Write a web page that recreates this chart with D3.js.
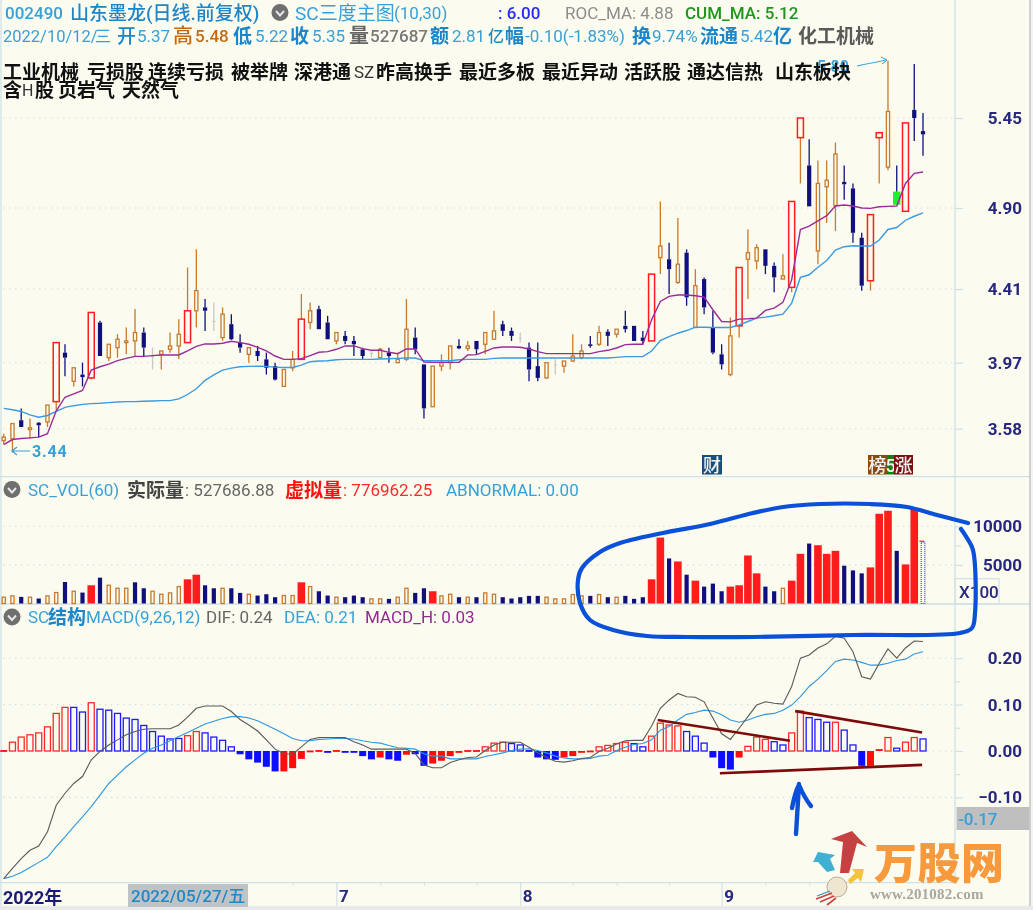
<!DOCTYPE html>
<html><head><meta charset="utf-8">
<style>
html,body{margin:0;padding:0;background:#fbfbef;}
svg{display:block;filter:blur(0.4px);}
text{font-family:Roboto,"Noto Sans CJK SC",sans-serif;}
</style>
<script src="https://cdn.jsdelivr.net/npm/d3@7/dist/d3.min.js"></script>
</head><body>
<script>
// ---- price pane data ----
const open=[3.51,3.52,3.63,3.575,3.615,3.62,3.74,4.03,3.86,3.90,
3.88,4.21,4.00,4.06,4.09,4.10,4.15,4.01,4.02,4.05,
4.07,4.09,4.28,4.30,4.22,4.12,4.20,4.09,4.02,4.04,
3.99,3.95,3.83,3.94,3.99,4.21,4.29,4.21,4.10,4.13,
4.10,4.05,4.03,4.00,4.03,3.97,3.99,4.12,3.96,3.71,
3.95,3.97,4.07,4.055,4.10,4.08,4.11,4.20,4.16,4.12,
4.06,3.95,3.88,3.96,3.95,3.98,4.00,4.08,4.08,4.155,
4.14,4.19,4.19,4.12,4.10,4.60,4.59,4.45,4.63,4.18,
4.47,4.18,4.02,3.90,4.19,4.59,4.58,4.65,4.55,4.47,
4.42,5.33,5.16,4.64,5.03,4.915,5.06,5.02,4.72,4.46,
5.33,5.15,5.00,4.88,5.50,5.37];
const high=[3.55,3.61,3.70,3.64,3.62,3.72,4.09,4.08,3.94,3.97,
4.27,4.22,4.08,4.14,4.18,4.29,4.18,4.06,4.04,4.15,
4.23,4.54,4.65,4.35,4.33,4.30,4.26,4.14,4.06,4.07,
4.03,3.97,3.93,4.04,4.38,4.33,4.31,4.25,4.15,4.16,
4.13,4.06,4.04,4.06,4.06,4.03,4.35,4.18,3.96,3.95,
4.02,4.07,4.11,4.10,4.10,4.15,4.28,4.22,4.18,4.15,
4.09,4.09,3.97,3.99,3.98,4.14,4.08,4.13,4.19,4.17,
4.17,4.28,4.19,4.16,4.50,4.94,4.69,4.84,4.65,4.53,
4.48,4.28,4.08,4.24,4.54,4.77,4.68,4.65,4.57,4.62,
4.94,5.45,5.32,5.19,5.19,5.30,5.16,5.05,4.75,4.86,
5.36,5.80,5.16,5.42,5.78,5.48];
const low=[3.49,3.44,3.59,3.52,3.53,3.59,3.69,3.89,3.83,3.83,
3.87,4.01,3.98,4.00,4.02,4.01,4.01,3.93,3.93,4.03,
3.99,4.09,4.18,4.16,4.16,4.10,4.105,4.03,3.97,3.98,
3.90,3.865,3.83,3.92,3.99,4.17,4.17,4.11,4.08,4.08,
4.01,3.99,4.00,4.00,3.97,3.97,3.98,4.02,3.64,3.71,
3.92,3.93,4.05,4.04,4.02,4.02,4.11,4.13,4.10,4.09,
3.86,3.86,3.875,3.90,3.91,3.975,3.99,4.06,4.07,4.07,
4.12,4.15,4.10,4.08,4.10,4.50,4.38,4.44,4.31,4.18,
4.26,4.02,3.93,3.89,4.12,4.35,4.53,4.50,4.39,4.47,
4.39,5.05,4.91,4.56,4.81,4.76,4.95,4.69,4.40,4.40,
5.05,5.13,4.92,4.88,5.31,5.22];
const close=[3.53,3.61,3.59,3.585,3.60,3.72,4.09,4.00,3.94,3.885,
4.27,4.01,4.08,4.11,4.10,4.15,4.06,4.01,4.04,4.07,
4.14,4.28,4.40,4.28,4.22,4.26,4.11,4.06,4.06,4.01,
3.94,3.87,3.93,3.99,4.23,4.28,4.17,4.11,4.15,4.10,
4.08,4.01,4.03,4.05,4.01,3.99,4.17,4.05,3.70,3.95,
3.97,4.07,4.055,4.07,4.05,4.15,4.16,4.16,4.13,4.12,
3.93,3.88,3.97,3.96,3.98,4.01,4.04,4.07,4.15,4.13,
4.17,4.17,4.10,4.10,4.50,4.67,4.53,4.56,4.36,4.43,
4.30,4.03,3.96,4.13,4.54,4.63,4.66,4.55,4.48,4.49,
4.94,5.45,4.91,5.05,5.07,5.23,5.045,4.75,4.43,4.86,
5.36,5.49,4.92,5.42,5.45,5.35];
const candleKind=["oononornon","rnoooongoo","orongonnon","nnooronnon","nngonoonno",
"oononoonng","nnogooonon","onnnronono","nnnoroonno","rrnooonnnr","rocrnn"].join("");
const maSlow=[3.70,3.692,3.682,3.662,3.648,3.658,3.682,3.706,3.716,3.724,
3.728,3.73,3.734,3.738,3.74,3.74,3.742,3.744,3.746,3.746,
3.756,3.782,3.816,3.866,3.898,3.926,3.938,3.946,3.948,3.95,
3.948,3.944,3.942,3.942,3.956,3.976,3.98,3.982,3.988,3.99,
3.99,3.99,3.99,3.992,3.994,3.996,3.998,3.998,3.982,3.982,
3.982,3.982,3.988,3.99,3.99,3.99,3.996,3.998,3.998,3.998,
3.998,3.998,3.998,3.998,3.998,3.998,3.998,3.998,3.998,3.998,
4.002,4.006,4.006,4.006,4.04,4.102,4.126,4.146,4.162,4.182,
4.182,4.18,4.18,4.18,4.196,4.216,4.236,4.242,4.25,4.26,
4.326,4.48,4.496,4.542,4.582,4.646,4.666,4.672,4.67,4.67,
4.706,4.77,4.782,4.826,4.85,4.87];
const maFast=[3.486,3.516,3.522,3.526,3.53,3.55,3.686,3.766,3.786,3.806,
3.926,3.946,3.962,3.982,3.996,4.008,4.008,4.012,4.016,4.016,
4.016,4.04,4.068,4.082,4.082,4.086,4.098,4.09,4.08,4.062,
4.04,4.01,3.99,3.99,3.994,4.012,4.032,4.036,4.05,4.07,
4.07,4.054,4.044,4.044,4.032,4.024,4.052,4.052,3.974,3.972,
3.972,3.972,3.972,4.016,4.018,4.038,4.058,4.064,4.064,4.062,
4.052,4.036,4.024,4.024,4.024,4.024,4.024,4.024,4.036,4.044,
4.058,4.078,4.08,4.08,4.226,4.336,4.366,4.374,4.374,4.37,
4.362,4.286,4.216,4.214,4.23,4.232,4.236,4.282,4.296,4.33,
4.466,4.77,4.79,4.822,4.854,4.912,4.918,4.912,4.90,4.898,
4.908,4.91,4.912,5.05,5.112,5.12];
const priceTicks=[3.58,3.97,4.41,4.90,5.45];
const priceTickY=[428.7,362.7,289,208,118];

// ---- volume pane data ----
const volume=[815,987,858,815,644,987,1416,2789,1587,1416,
2360,3346,2360,1973,1973,2746,1973,1587,1201,1373,
2188,3132,3732,2360,1973,1973,1973,1373,1201,1030,
1201,815,1030,1030,2746,2188,1587,1030,815,815,
1030,815,600,600,600,815,1973,1373,1973,1587,
987,1201,815,815,815,1373,1201,815,644,815,
987,987,815,600,600,1158,987,987,1158,815,
815,987,600,815,3132,8537,5834,5448,3732,2960,
2188,2574,1587,2188,2360,6220,3904,2188,1587,1973,
2960,6435,7765,7550,6435,6821,4891,4290,3904,4676,
11626,12012,6821,5062,12312,7936];
const volumeKind=["oononoonon","rnooonnoo0","orrnnonnon","nnooronnon","nnoonoonnr",
"oononoonnn","nnooooonon","onnnrrnrnr","nnnrrrrnno","rrnrrrnnnr","rrnrrd"].join("").replace("0","o");
const volumeTicks=[5000,10000];

// ---- MACD pane data ----
const macdHist=[.002,.019,.03,.035,.039,.052,.081,.094,.094,.084,
.104,.09,.088,.081,.071,.068,.055,.042,.032,.026,
.027,.033,.042,.039,.03,.023,.009,-.007,-.018,-.025,
-.034,-.044,-.044,-.037,-.017,.001,.002,-.001,.002,-.001,
-.003,-.011,-.018,-.014,-.018,-.021,-.008,-.007,-.032,-.027,
-.021,-.011,-.004,.002,.002,.009,.017,.019,.016,.013,
.002,-.014,-.018,-.019,-.014,-.011,-.003,.001,.009,.012,
.016,.019,.016,.009,.032,.06,.056,.054,.042,.032,
.017,-.014,-.037,-.04,-.014,.01,.03,.025,.02,.013,
.039,.086,.072,.068,.062,.062,.045,.013,-.032,-.032,
.004,.029,.006,.019,.029,.026];
const macdKind=["rRRRRRRRBB","RBBBBBBBBB","BRRBBBBbbb","bbrrrrrbrb","bbbrbbrbbr",
"rrrrrRRRBB","bbbbrrrrRR","RRBBRRRRBB","BbbbrRRRBB","RRBBBRBBbr","rRBRRB"].join("");
const dif=[-.275,-.253,-.232,-.214,-.205,-.174,-.117,-.091,-.07,-.055,
-.019,-.001,.013,.024,.035,.042,.047,.048,.048,.048,
.056,.073,.092,.097,.097,.097,.085,.068,.056,.043,
.024,.004,-.006,-.007,.009,.025,.029,.029,.029,.029,
.02,.013,.004,.004,.004,.004,.004,-.005,-.03,-.036,
-.036,-.025,-.019,-.014,-.013,.001,.013,.019,.019,.019,
.008,-.004,-.014,-.022,-.024,-.021,-.016,-.014,-.001,.006,
.015,.022,.023,.023,.054,.092,.11,.124,.117,.116,
.106,.071,.037,.025,.049,.074,.099,.106,.103,.101,
.139,.2,.207,.222,.231,.247,.243,.214,.16,.155,
.189,.22,.2,.222,.237,.236];
const dea=[-.275,-.27,-.262,-.251,-.24,-.229,-.206,-.185,-.163,-.142,
-.12,-.095,-.07,-.052,-.034,-.019,-.005,.006,.013,.022,
.031,.04,.049,.058,.064,.07,.074,.074,.071,.065,
.056,.047,.037,.027,.022,.022,.025,.026,.027,.027,
.026,.022,.019,.017,.012,.007,.006,.004,-.006,-.011,
-.011,-.017,-.017,-.017,-.017,-.012,-.008,-.004,.001,.004,
.005,.001,-.004,-.011,-.015,-.017,-.017,-.016,-.011,-.009,
.001,.008,.014,.016,.024,.045,.053,.067,.079,.083,
.088,.086,.078,.067,.062,.067,.074,.079,.081,.088,
.099,.117,.139,.155,.173,.193,.198,.196,.191,.185,
.185,.189,.195,.198,.209,.214];
const macdTicks=[-.1,0,.1,.2];
const macdMinorTicks=[-.05,.05,.15];
const trendBars=[[74.7,89.8],[90.4,104.9],[81.8,104.9]];
const trendVals=[[.067,.022],[.086,.04],[-.048,-.03]];

// ---- time axis data ----
const monthBars=[38,59,82];
const monthLabels=["7","8","9"];
const minorBars=[33,43,48,54,65,70,76,87,92];

// ---- colours ----
const bg="#fbfbef",orange="#c97a2c",navy="#10107c",red="#ff1c1c",gray="#c9c9c9",green="#1fef2a",
 hollowBlue="#1a1aff",cyan="#2f97d3",grid="#cfe1e6",axisText="#27277f";

const W=1033,H=910;
const svg=d3.select("body").append("svg").attr("width",W).attr("height",H).attr("viewBox",`0 0 ${W} ${H}`);
svg.append("rect").attr("width",W).attr("height",H).attr("fill",bg);

const x=d3.scaleLinear().domain([0,105]).range([3.7,923]);
const yP=d3.scaleLinear().domain(priceTicks).range(priceTickY);
const yV=d3.scaleLinear().domain([0,10000]).range([603.5,526.3]);
const yM=d3.scaleLinear().domain([0,.1]).range([751,704.6]);
const idx=d3.range(open.length);
const PANE_R=955;

function gridLines(vals,scale){
  svg.append("g").selectAll("line").data(vals).join("line")
   .attr("x1",3).attr("x2",PANE_R).attr("y1",d=>scale(d)).attr("y2",d=>scale(d))
   .attr("stroke",grid).attr("stroke-width",1.1).attr("stroke-dasharray","1.4 4.6");
}
gridLines(priceTicks,yP);gridLines(volumeTicks,yV);gridLines(macdTicks,yM);

// frame
const frame=svg.append("g").attr("stroke",grid).attr("stroke-width",1.3);
frame.append("line").attr("x1",PANE_R).attr("x2",PANE_R).attr("y1",0).attr("y2",884);
frame.append("line").attr("x1",0).attr("x2",1030).attr("y1",476.7).attr("y2",476.7);
frame.append("line").attr("x1",0).attr("x2",1030).attr("y1",604).attr("y2",604);
frame.append("line").attr("x1",0).attr("x2",PANE_R).attr("y1",882.7).attr("y2",882.7);
frame.append("line").attr("x1",1).attr("x2",1).attr("y1",0).attr("y2",906);
svg.append("rect").attr("x",1030).attr("y",0).attr("width",3).attr("height",H).attr("fill","#f4f4f4");
svg.append("line").attr("x1",1030).attr("x2",1030).attr("y1",0).attr("y2",906).attr("stroke","#9a9a9a").attr("stroke-width",.8);
svg.append("rect").attr("x",0).attr("y",906).attr("width",W).attr("height",4).attr("fill","#e9e9e9");

// axes
function styleAxis(g){
  g.select(".domain").remove();
  g.selectAll(".tick line").attr("stroke",grid).attr("stroke-width",1.2);
  g.selectAll(".tick text").attr("x",67).attr("text-anchor","end").attr("fill",axisText)
   .style("font-size","17px").style("font-weight",700).style("font-family","Roboto,sans-serif");
}
svg.append("g").attr("transform",`translate(${PANE_R},0)`).call(d3.axisRight(yP).tickValues(priceTicks).tickFormat(d3.format(".2f")).tickSize(8)).call(styleAxis);
svg.append("g").attr("transform",`translate(${PANE_R},0)`).call(d3.axisRight(yV).tickValues(volumeTicks).tickFormat(d3.format("d")).tickSize(8)).call(styleAxis);
svg.append("g").attr("transform",`translate(${PANE_R},0)`).call(d3.axisRight(yV).tickValues([7500]).tickFormat("").tickSize(6)).call(styleAxis);
svg.append("g").attr("transform",`translate(${PANE_R},0)`).call(d3.axisRight(yM).tickValues(macdTicks).tickFormat(d3.format(".2f")).tickSize(8)).call(styleAxis);
svg.append("g").attr("transform",`translate(${PANE_R},0)`).call(d3.axisRight(yM).tickValues(macdMinorTicks).tickFormat("").tickSize(5)).call(styleAxis);

// x axis
const xAxisG=svg.append("g").attr("transform","translate(0,882.7)");
xAxisG.append("g").call(d3.axisBottom(x).tickValues(minorBars).tickFormat("").tickSize(3)).call(g=>{g.select(".domain").remove();g.selectAll("line").attr("stroke",grid).attr("stroke-width",1);});
xAxisG.append("g").call(d3.axisBottom(x).tickValues(monthBars).tickFormat((d,i)=>monthLabels[i]).tickSize(23)).call(g=>{
  g.select(".domain").remove();
  g.selectAll("line").attr("stroke",grid).attr("stroke-width",1.2);
  g.selectAll("text").attr("y",9).attr("dy","10px").attr("x",2).attr("text-anchor","start").attr("fill",axisText)
   .style("font-size","17px").style("font-weight",700);
});

// Candles
const candle=svg.append("g");
const cColor={o:orange,n:navy,r:red,g:gray,c:green};
idx.forEach(i=>{
  const k=candleKind[i],top=Math.max(open[i],close[i]),bot=Math.min(open[i],close[i]);
  const cx=x(i),wick=k==="r"?orange:k==="c"?navy:cColor[k];
  const yt=yP(top),yb=yP(bot);
  candle.append("line").attr("x1",cx).attr("x2",cx).attr("y1",yP(high[i])).attr("y2",yt).attr("stroke",wick).attr("stroke-width",1.3);
  candle.append("line").attr("x1",cx).attr("x2",cx).attr("y1",yb).attr("y2",yP(low[i])).attr("stroke",wick).attr("stroke-width",1.3);
  const h=Math.max(yb-yt,1.5);
  if(k==="o") candle.append("rect").attr("x",cx-1.6).attr("y",yt).attr("width",3.2).attr("height",h).attr("fill","none").attr("stroke",orange).attr("stroke-width",1.3);
  else if(k==="r") candle.append("rect").attr("x",cx-3).attr("y",yt).attr("width",6).attr("height",h).attr("fill","none").attr("stroke",red).attr("stroke-width",1.5);
  else if(k==="n") candle.append("rect").attr("x",cx-2.1).attr("y",yt).attr("width",4.2).attr("height",h).attr("fill",navy);
  else if(k==="c") candle.append("rect").attr("x",cx-3.7).attr("y",yt).attr("width",7.4).attr("height",h).attr("fill",green);
  else candle.append("rect").attr("x",cx-1.5).attr("y",yt).attr("width",3).attr("height",1.2).attr("fill",gray);
});
const lineP=d3.line().x((d,i)=>x(i)).y(d=>yP(d));
svg.append("path").attr("d",lineP(maSlow)).attr("fill","none").attr("stroke","#3a9ae2").attr("stroke-width",1.4);
svg.append("path").attr("d",lineP(maFast)).attr("fill","none").attr("stroke","#9a2c9a").attr("stroke-width",1.4);

// Volume bars
const volG=svg.append("g");
idx.forEach(i=>{
  const k=volumeKind[i],cx=x(i),t=yV(volume[i]),h=yV(0)-t;
  if(k==="o") volG.append("rect").attr("x",cx-1.6).attr("y",t).attr("width",3.2).attr("height",h).attr("fill","none").attr("stroke",orange).attr("stroke-width",1.3);
  else if(k==="n") volG.append("rect").attr("x",cx-2.1).attr("y",t).attr("width",4.2).attr("height",h).attr("fill",navy);
  else if(k==="r") volG.append("rect").attr("x",cx-3.8).attr("y",t).attr("width",7.6).attr("height",h).attr("fill",red);
  else{
    volG.append("rect").attr("x",cx-1.8).attr("y",t).attr("width",3.6).attr("height",h).attr("fill","none").attr("stroke","#3a3aff").attr("stroke-width",1.2).attr("stroke-dasharray","1 1");
    volG.append("line").attr("x1",cx-3.6).attr("x2",cx+1.5).attr("y1",t-1).attr("y2",t-1).attr("stroke",red).attr("stroke-width",1.2);
  }
});

// MACD
const macdG=svg.append("g");
idx.forEach(i=>{
  const k=macdKind[i],v=macdHist[i],cx=x(i),a=yM(Math.max(v,0)),b=yM(Math.min(v,0)),h=Math.max(b-a,1.8);
  if(k==="R"||k==="B") macdG.append("rect").attr("x",cx-3).attr("y",a).attr("width",6).attr("height",h).attr("fill","none").attr("stroke",k==="R"?"#ff2a2a":hollowBlue).attr("stroke-width",1.3);
  else macdG.append("rect").attr("x",cx-3.5).attr("y",a).attr("width",7).attr("height",h).attr("fill",k==="r"?"#ff0d0d":"#0d0dff");
});
const lineM=d3.line().x((d,i)=>x(i)).y(d=>yM(d));
svg.append("path").attr("d",lineM(dea)).attr("fill","none").attr("stroke","#2f97e0").attr("stroke-width",1.1);
svg.append("path").attr("d",lineM(dif)).attr("fill","none").attr("stroke","#5a5a5a").attr("stroke-width",1.1);
trendBars.forEach((b,i)=>{
  svg.append("line").attr("x1",x(b[0])).attr("x2",x(b[1])).attr("y1",yM(trendVals[i][0])).attr("y2",yM(trendVals[i][1]))
   .attr("stroke","#7d0b0b").attr("stroke-width",2.6);
});

// Text helper
function label(px,py,s,color,size,weight,extra){
  const t=svg.append("text").attr("x",px).attr("y",py).attr("fill",color).attr("dominant-baseline","central")
    .style("font-size",size+"px").style("font-weight",weight||400).text(s);
  if(extra) extra(t);
  return t;
}
function chevron(cx,cy){
  svg.append("circle").attr("cx",cx).attr("cy",cy).attr("r",8.5).attr("fill","#6f6f6f");
  svg.append("path").attr("d",`M${cx-4},${cy-1.5}L${cx},${cy+3}L${cx+4},${cy-1.5}`).attr("fill","none").attr("stroke","#e8e8e8").attr("stroke-width",1.9);
}
const hdrBlue="#1d86c8",ltBlue="#37a0d8";
// Row 1
label(5,13,"002490",ltBlue,17,500);
label(70,13,"山东墨龙(日线.前复权)",hdrBlue,19,500);
chevron(280,12.5);
label(295,13,"SC三度主图",ltBlue,19,400);
label(394,13,"(10,30)",ltBlue,17,400);
label(498,13,": 6.00","#2a2aff",17,500);
label(565,13,"ROC_MA: 4.88","#8d8d8d",17,400);
label(685,13,"CUM_MA: 5.12","#1f961f",17,500);
// Row 2
const r2=36;
[[3,"2022/10/12/",ltBlue,16.5,400],[95,"三",ltBlue,16,400],[117,"开",hdrBlue,19,500],[137,"5.37",ltBlue,17,400],[173,"高","#c66a12",20,500],[195,"5.48","#c66a12",17,500],
 [233,"低",hdrBlue,19,700],[255,"5.22",ltBlue,17,400],[290,"收",hdrBlue,19,700],[312,"5.35",ltBlue,17,400],[349,"量","#666",20,700],[370,"527687","#777",17,500],
 [430,"额",hdrBlue,19,700],[452,"2.81",ltBlue,17,400],[488,"亿",hdrBlue,16,500],[505,"幅",hdrBlue,19,700],[525,"-0.10(-1.83%)",ltBlue,17,400],
 [632,"换",hdrBlue,19,700],[652,"9.74%",ltBlue,17,400],[700,"流通",hdrBlue,19,700],[740,"5.42",ltBlue,17,400],[773,"亿",hdrBlue,19,700],[798,"化工机械","#5a5a5a",19,700]
].forEach(d=>label(d[0],r2,d[1],d[2],d[3],d[4]));
// faint high label and arrow (under the tags)
label(817,66,"5.80",ltBlue,16,500);
svg.append("path").attr("d","M857,66C865,64 873,63 886,60M881,57L887,60L882,64").attr("fill","none").attr("stroke",ltBlue).attr("stroke-width",1);
// Tags
[[3,"工业机械"],[87,"亏损股"],[148,"连续亏损"],[231,"被举牌"],[294,"深港通"],[376,"昨高换手"],[459,"最近多板"],[542,"最近异动"],[624,"活跃股"],[687,"通达信热"],[775,"山东板块"]]
 .forEach(d=>label(d[0],72,d[1],"#111",19,700));
label(354,72,"SZ","#333",17,400);
label(3,90,"含",  "#111",19,700);label(22,90,"H","#333",16,400);label(35,90,"股","#111",19,700);
label(58,90,"页岩气","#111",19,700);label(122,90,"天然气","#111",19,700);
// low label
svg.append("path").attr("d","M30,451H13M17,447L12,451L17,455").attr("fill","none").attr("stroke",ltBlue).attr("stroke-width",1.2);
label(32,451,"3.44",ltBlue,16,700,t=>t.style("letter-spacing","0.8px"));
// event badges
function badge(px,w,fill,s){
  svg.append("rect").attr("x",px).attr("y",455).attr("width",w).attr("height",19.5).attr("fill",fill);
  label(px+w/2,465,s,"#f4f4f4",18,500,t=>t.attr("text-anchor","middle"));
}
badge(702,20,"#17507d","财");badge(868,19,"#874a10","榜");badge(887,7,"#148014","5");badge(894,19,"#7b1010","涨");

// Pane 2 title
chevron(12,489.5);
label(28,490,"SC_VOL(60)",ltBlue,17,400);
label(127,490,"实际量","#444",19,700);
label(185,490,": 527686.88","#666",17,400);
label(285,490,"虚拟量","#ff1010",19,700);
label(343,490,": 776962.25","#ff2a2a",17,400);
label(446,490,"ABNORMAL: 0.00",ltBlue,17,400);
// X100 box
svg.append("rect").attr("x",955).attr("y",578.7).attr("width",44).attr("height",25.3).attr("fill","none").attr("stroke",grid).attr("stroke-width",1.2);
label(959,592,"X100","#27277f",17,500);
// Pane 3 title
chevron(12,617);
label(28,617,"SC",ltBlue,17,400);
label(48,617,"结构",hdrBlue,19,700);
label(86,617,"MACD(9,26,12)",ltBlue,17,400);
label(206,617,"DIF: 0.24","#666",17,400);
label(284,617,"DEA: 0.21",ltBlue,17,400);
label(365,617,"MACD_H: 0.03","#932a93",17,400);
// crosshair value box
svg.append("rect").attr("x",956.5).attr("y",807).attr("width",73).attr("height",23).attr("fill","#bfbfbf");
label(958,818.5,"-0.17",ltBlue,17,500);
// bottom axis
label(3,897,"2022年","#1a1a78",18,700);
svg.append("rect").attr("x",128).attr("y",884).attr("width",120).attr("height",23).attr("fill","#bfc3c6");
label(131,896,"2022/05/27/五","#2089c6",17,500);

// Hand-drawn annotations
const curve=d3.line().curve(d3.curveCatmullRom.alpha(.5));
const ellipsePts=[[968,523],[937,515],[907,507],[870,504],[820,504],[783,507],[753,513],[710,524],[663,533],[620,543],[600,552],[582,568],[578,580],[580,603],[590,620],[613,630],[647,636],[687,637],[753,637],[853,635],[960,633],[972,628],[975,613],[973,550],[967,538],[961,529]];
svg.append("path").attr("d",curve(ellipsePts)).attr("fill","none").attr("stroke","#0a50d8").attr("stroke-width",4.2).attr("stroke-linecap","round");
svg.append("path").attr("d","M796,834L799,784M792,808C794,798 796,790 799,785C802,792 806,800 811,806").attr("fill","none").attr("stroke","#0a50d8").attr("stroke-width",4.4).attr("stroke-linecap","round").attr("stroke-linejoin","round");

// Watermark logo
const logo=svg.append("g");
logo.append("polygon").attr("points","840,873 843,842 831,839 852,831 867,847 857,843 849,873").attr("fill","#c64242");
logo.append("polygon").attr("points","827,872 818,862 813,862 818,852 835,855 830,859 835,870").attr("fill","#3fb0d2");
logo.append("polygon").attr("points","848,880 855,873 852,869 864,869 861,882 858,878 850,884").attr("fill","#f4c53c");
logo.append("circle").attr("cx",837).attr("cy",887).attr("r",10).attr("fill","#efe6d2").attr("stroke","#b59a7a").attr("stroke-width",.8);
logo.append("path").attr("d","M832,893L816,899M834,896L820,902M836,898L827,905").attr("stroke","#d24040").attr("stroke-width",1.6).attr("fill","none");
logo.append("path").attr("d","M830,891L817,896").attr("stroke","#2f97c8").attr("stroke-width",1.3);
label(874,864,"万股网","#f79a3e",43,900,t=>t.style("letter-spacing","0.5px"));
label(870,894,"www.201082.com","#a8a8a0",15,700,t=>t.style("font-family","'Liberation Serif',serif").style("letter-spacing","0.2px"));
</script>
</body></html>
